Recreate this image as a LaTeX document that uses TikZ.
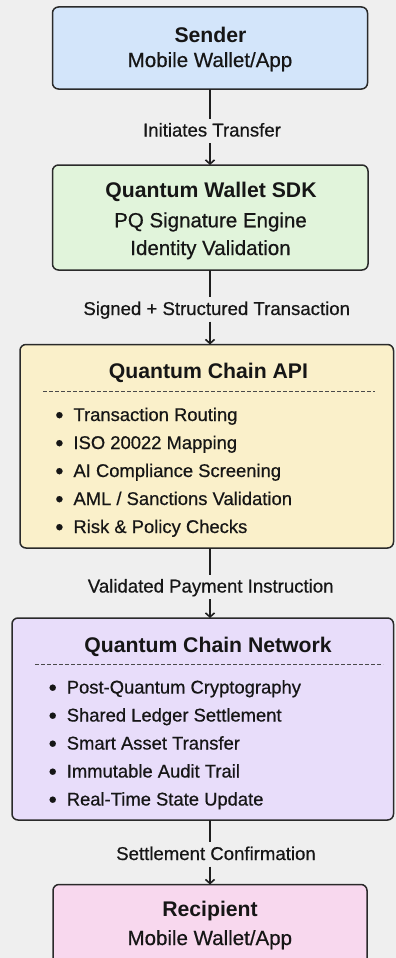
\documentclass[tikz,border=0pt]{standalone}
\usepackage{fontspec}
\setmainfont{Liberation Sans}
\newfontfamily\medfont{Liberation Sans}[FakeBold=0.6]
\usetikzlibrary{arrows.meta}
\definecolor{bgc}{HTML}{EFEFEF}
\definecolor{edgec}{HTML}{2A2A2A}
\definecolor{txtc}{HTML}{161616}
\definecolor{linec}{HTML}{1E1E1E}
\definecolor{dashc}{HTML}{4A4A4A}
\definecolor{cblue}{HTML}{D3E5FA}
\definecolor{cgreen}{HTML}{E1F4DB}
\definecolor{cyellow}{HTML}{FAF0CA}
\definecolor{cpurple}{HTML}{E8DDFA}
\definecolor{cpink}{HTML}{F8D8EE}
\newcommand{\bul}{\makebox[17.5pt][l]{\kern-0.6pt\raisebox{-1.8pt}{\scalebox{1.25}{•}}}}
\begin{document}
\begin{tikzpicture}[x=1pt,y=-1pt,
  box/.style={draw=edgec, line width=1.5pt, rounded corners=6pt, inner sep=0pt, outer sep=0pt},
  ttl/.style={font=\fontsize{21.2}{25}\selectfont\bfseries, text=txtc, inner sep=0pt, anchor=base},
  sub/.style={font=\medfont\fontsize{20.5}{24}\selectfont, text=txtc, inner sep=0pt, anchor=base},
  itm/.style={font=\medfont\fontsize{18.4}{22}\selectfont, text=txtc, inner sep=0pt, anchor=base west},
  lab/.style={font=\medfont\fontsize{18.6}{22}\selectfont, text=txtc, inner sep=0pt, text height=13.5pt, text depth=2pt, outer ysep=4.5pt, anchor=base},
  link/.style={draw=linec, line width=1.6pt},
  arr/.style={link, -{Straight Barb[length=4pt,width=9pt]}},
  sepline/.style={draw=dashc, line width=1pt, dash pattern=on 4pt off 2pt}]
\useasboundingbox (0,0) rectangle (396,958);
\fill[bgc] (0,0) rectangle (396,958);
\clip (0,0) rectangle (396,958);
\coordinate (axis) at (210,0);

% boxes
\node[box, fill=cblue, minimum width=315pt, minimum height=82pt] (sender) at (210,48) {};
\node[box, fill=cgreen, minimum width=315.5pt, minimum height=105pt] (sdk) at (210.25,217.5) {};
\node[box, fill=cyellow, minimum width=373.5pt, minimum height=203.5pt] (api) at (206.75,446.25) {};
\node[box, fill=cpurple, minimum width=381.5pt, minimum height=202pt] (net) at (202.75,719) {};
\node[box, fill=cpink, minimum width=314pt, minimum height=96pt] (rcpt) at (210,932.5) {};

% sender text
\node[ttl] (senderT) at (210.5,42.5) {Sender};
\node[sub] (senderS) at (210,67) {Mobile Wallet/App};

% sdk text
\node[ttl] (sdkT) at (211,197.3) {Quantum Wallet SDK};
\node[sub] (sdkS1) at (210.5,227.3) {PQ Signature Engine};
\node[sub] (sdkS2) at (210.5,255) {Identity Validation};

% api text
\node[ttl] (apiT) at (208.5,378.3) {Quantum Chain API};
\draw[sepline] (43,391) -- (375,391);
\node[itm] (api1) at (55.8,421) {\bul Transaction Routing};
\node[itm] (api2) at (55.8,449) {\bul ISO 20022 Mapping};
\node[itm] (api3) at (55.8,477) {\bul AI Compliance Screening};
\node[itm] (api4) at (55.8,505) {\bul AML / Sanctions Validation};
\node[itm] (api5) at (55.8,533) {\bul Risk \& Policy Checks};

% network text
\node[ttl] (netT) at (208,652.7) {Quantum Chain Network};
\draw[sepline] (35,664) -- (383,664);
\node[itm] (net1) at (49.1,693.5) {\bul Post-Quantum Cryptography};
\node[itm] (net2) at (49.1,721.5) {\bul Shared Ledger Settlement};
\node[itm] (net3) at (49.1,749.5) {\bul Smart Asset Transfer};
\node[itm] (net4) at (49.1,777.5) {\bul Immutable Audit Trail};
\node[itm] (net5) at (49.1,805.5) {\bul Real-Time State Update};

% recipient text
\node[ttl] (rcptT) at (210,916.7) {Recipient};
\node[sub] (rcptS) at (209.8,945) {Mobile Wallet/App};

% connector labels
\node[lab] (lab1) at (212,136.5) {Initiates Transfer};
\node[lab] (lab2) at (216.7,315) {Signed + Structured Transaction};
\node[lab] (lab3) at (210.7,592.5) {Validated Payment Instruction};
\node[lab] (lab4) at (216,860) {Settlement Confirmation};

% connectors
\draw[link] (axis |- sender.south) -- (axis |- lab1.north);
\draw[arr] (axis |- lab1.south) -- (axis |- sdk.north);
\draw[link] (axis |- sdk.south) -- (axis |- lab2.north);
\draw[arr] (axis |- lab2.south) -- (axis |- api.north);
\draw[link] (axis |- api.south) -- (axis |- lab3.north);
\draw[arr] (axis |- lab3.south) -- (axis |- net.north);
\draw[link] (axis |- net.south) -- (axis |- lab4.north);
\draw[arr] (axis |- lab4.south) -- (axis |- rcpt.north);
\end{tikzpicture}
\end{document}
